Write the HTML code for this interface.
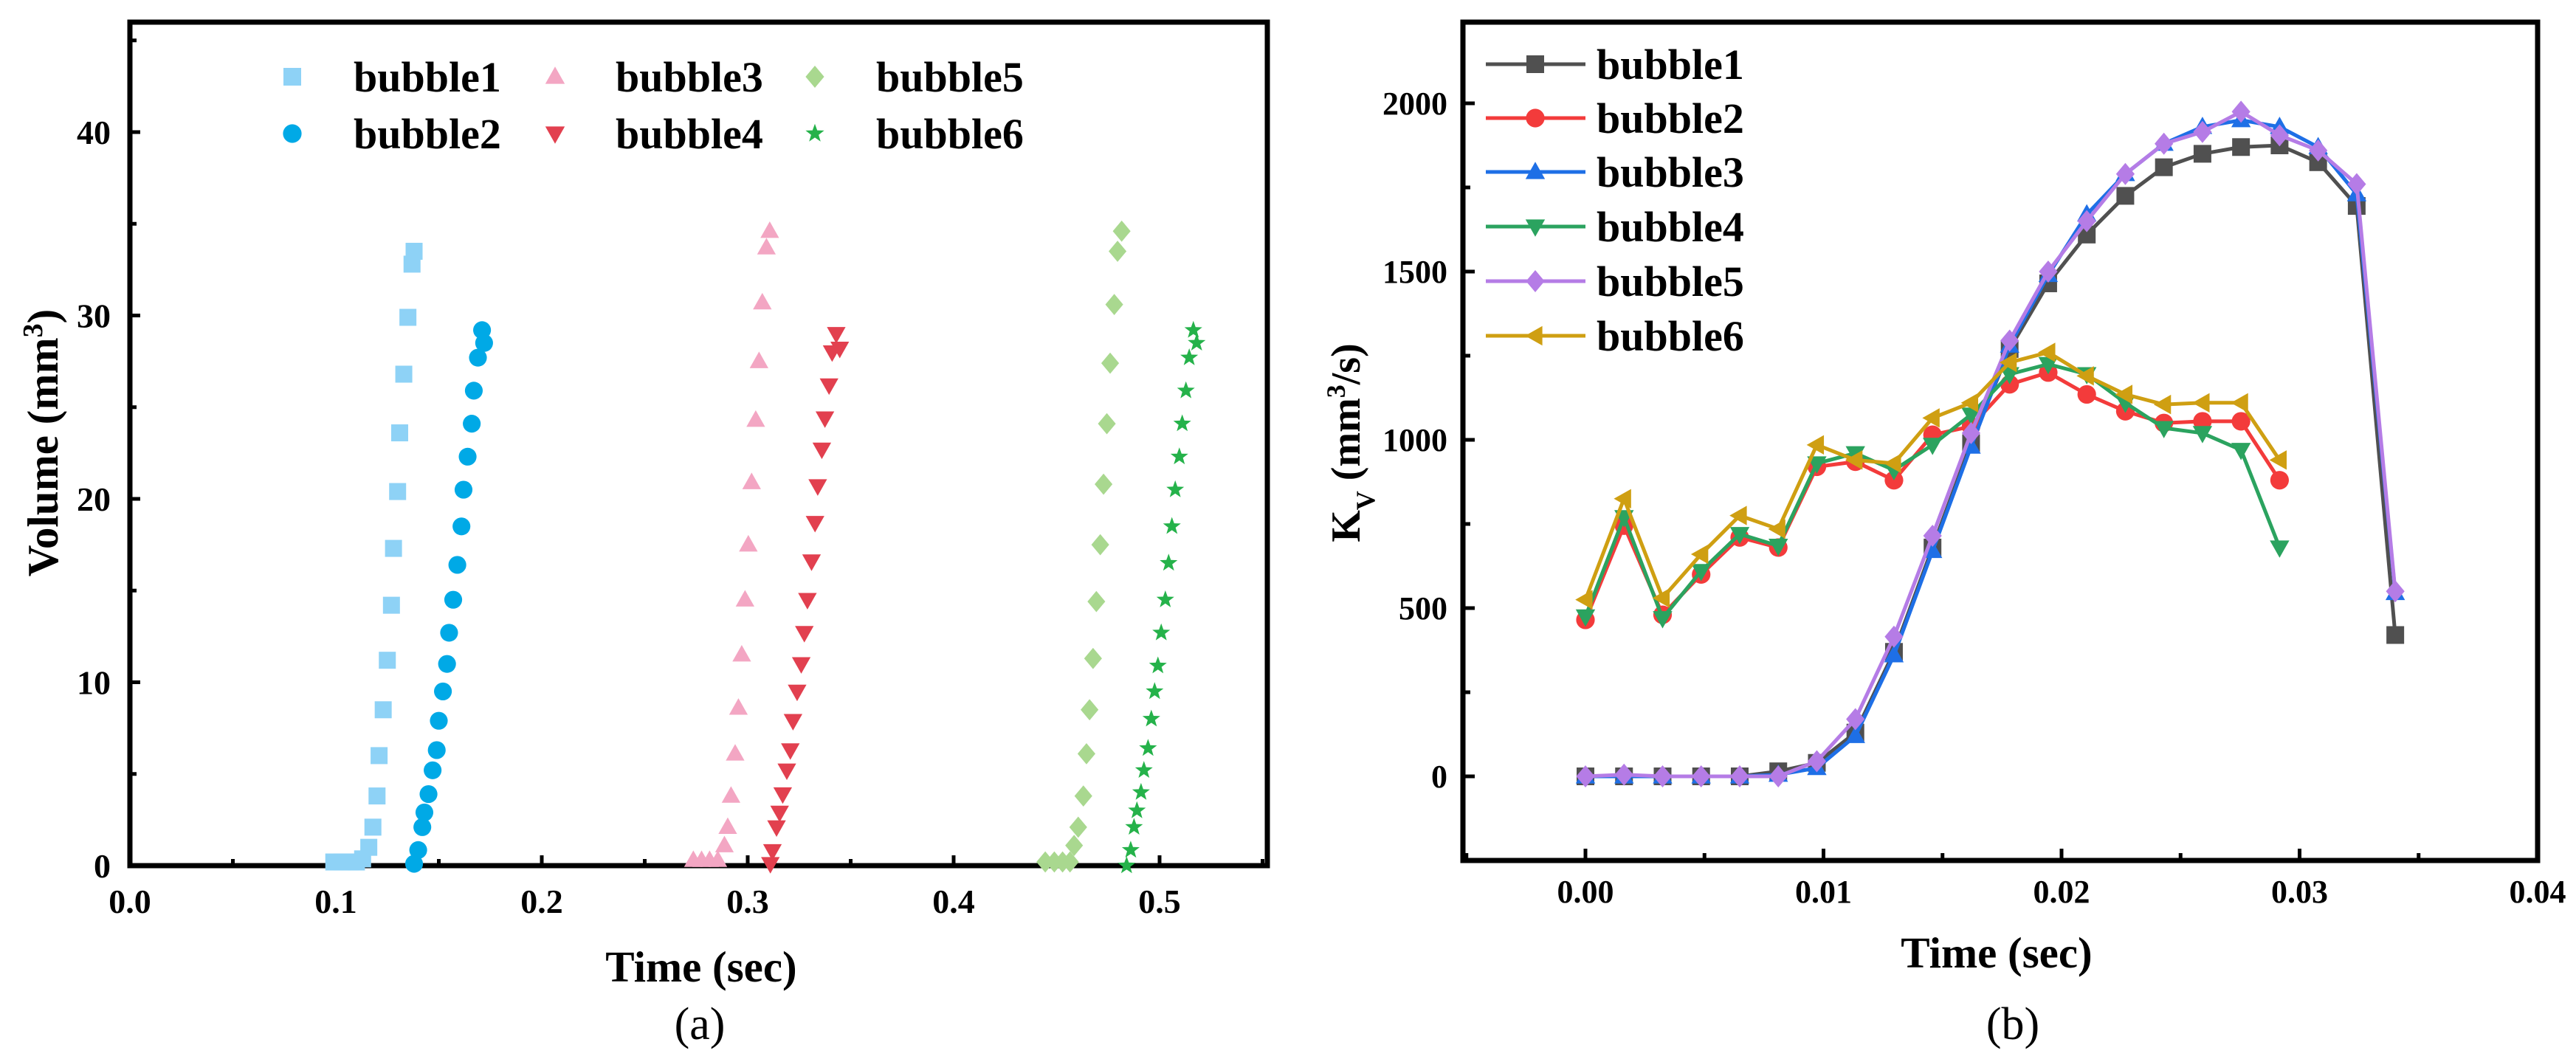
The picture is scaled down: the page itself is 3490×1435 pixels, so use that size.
<!DOCTYPE html>
<html><head><meta charset="utf-8"><style>
html,body{margin:0;padding:0;background:#fff}
svg{display:block;font-family:"Liberation Serif",serif}
</style></head><body>
<svg id="fig" width="3490" height="1435" viewBox="0 0 3490 1435" xmlns="http://www.w3.org/2000/svg">
<g id="pa"></g>
<g id="pb"></g>
</svg>
<script>
// ---------- Panel (a) data ----------
const aNames = ["bubble1","bubble2","bubble3","bubble4","bubble5","bubble6"];
const aT1 = [0.099,0.103,0.107,0.110,0.113,0.116,0.118,0.120,0.121,0.123,0.125,0.127,0.128,0.130,0.131,0.133,0.135,0.137,0.138];
const aV1 = [0.2,0.2,0.2,0.2,0.37,1.0,2.1,3.8,6.0,8.5,11.2,14.2,17.3,20.4,23.6,26.8,29.9,32.8,33.5];
const aT2 = [0.138,0.140,0.142,0.143,0.145,0.147,0.149,0.150,0.152,0.154,0.155,0.157,0.159,0.161,0.162,0.164,0.166,0.167,0.169,0.171,0.172];
const aV2 = [0.1,0.85,2.1,2.9,3.9,5.2,6.3,7.9,9.5,11.0,12.7,14.5,16.4,18.5,20.5,22.3,24.1,25.9,27.7,29.2,28.5];
const aT3 = [0.2736,0.2776,0.2815,0.2855,0.2887,0.2903,0.2919,0.2939,0.2955,0.2971,0.2987,0.3003,0.3019,0.3039,0.3055,0.3071,0.3091,0.3107];
const aV3 = [0.3,0.3,0.3,0.3,1.1,2.1,3.8,6.1,8.6,11.5,14.5,17.5,20.9,24.3,27.5,30.7,33.7,34.6];
const aT4 = [0.311,0.312,0.314,0.3155,0.317,0.319,0.3207,0.322,0.324,0.326,0.3275,0.329,0.331,0.3327,0.334,0.336,0.3375,0.3395,0.341,0.343,0.3447];
const aV4 = [0.1,0.8,2.1,2.9,3.9,5.2,6.3,7.9,9.5,11.0,12.7,14.5,16.6,18.7,20.7,22.7,24.4,26.2,28.0,29.0,28.2];
const aT5 = [0.4445,0.4489,0.4529,0.4565,0.4585,0.4605,0.463,0.4645,0.466,0.4677,0.4693,0.4712,0.4728,0.4744,0.476,0.478,0.4796,0.4816];
const aV5 = [0.2,0.2,0.2,0.2,1.1,2.1,3.8,6.1,8.5,11.3,14.4,17.5,20.8,24.1,27.4,30.6,33.5,34.6];
const aT6 = [0.484,0.486,0.4876,0.489,0.491,0.4924,0.4944,0.496,0.4976,0.4992,0.5008,0.5028,0.5044,0.506,0.5076,0.5096,0.511,0.5128,0.5144,0.5164,0.518];
const aV6 = [0.0,0.85,2.1,3.0,4.0,5.2,6.4,8.0,9.5,10.9,12.7,14.5,16.5,18.5,20.5,22.3,24.1,25.9,27.7,29.2,28.5];
const aXTicks = ["0.0","0.1","0.2","0.3","0.4","0.5"];
const aYTicks = ["0","10","20","30","40"];

// ---------- Panel (b) data ----------
const bNames = ["bubble1","bubble2","bubble3","bubble4","bubble5","bubble6"];
const bStep = 0.00162;
const bK1 = [0,0,0,0,0,15,40,130,370,680,990,1270,1465,1610,1725,1810,1850,1870,1875,1825,1695,420];
const bK2 = [465,745,480,600,710,680,920,935,880,1015,1040,1165,1200,1135,1085,1050,1055,1055,880];
const bK3 = [0,0,0,0,0,5,25,120,360,670,980,1280,1490,1670,1790,1880,1930,1950,1930,1870,1730,545];
const bK4 = [475,770,470,610,720,685,930,960,910,985,1075,1195,1225,1195,1110,1035,1020,970,680];
const bK5 = [0,5,0,0,0,0,45,170,415,715,1020,1295,1500,1650,1790,1880,1915,1975,1905,1860,1760,550];
const bK6 = [525,825,530,660,775,735,985,940,930,1065,1110,1230,1260,1190,1135,1105,1110,1110,940];
const bXTicks = ["0.00","0.01","0.02","0.03","0.04"];
const bYTicks = ["0","500","1000","1500","2000"];

const NS="http://www.w3.org/2000/svg";
function mk(tag, parent, attrs){const e=document.createElementNS(NS,tag);for(const k in attrs)e.setAttribute(k,attrs[k]);parent.appendChild(e);return e;}
function marker(parent, shape, cx, cy, s, color){
  let e;
  const h=s/2;
  if(shape==="square") e=mk("rect",parent,{x:cx-h,y:cy-h,width:s,height:s,fill:color});
  else if(shape==="circle") e=mk("circle",parent,{cx:cx,cy:cy,r:h*1.05,fill:color});
  else if(shape==="up") e=mk("polygon",parent,{points:`${cx},${cy-h*1.15} ${cx+h*1.1},${cy+h*0.8} ${cx-h*1.1},${cy+h*0.8}`,fill:color});
  else if(shape==="down") e=mk("polygon",parent,{points:`${cx},${cy+h*1.15} ${cx+h*1.1},${cy-h*0.8} ${cx-h*1.1},${cy-h*0.8}`,fill:color});
  else if(shape==="diamond") e=mk("polygon",parent,{points:`${cx},${cy-h*1.25} ${cx+h*1.05},${cy} ${cx},${cy+h*1.25} ${cx-h*1.05},${cy}`,fill:color});
  else if(shape==="left") e=mk("polygon",parent,{points:`${cx-h*1.15},${cy} ${cx+h*0.8},${cy-h*1.1} ${cx+h*0.8},${cy+h*1.1}`,fill:color});
  else if(shape==="star"){let p=[];for(let i=0;i<10;i++){const r=i%2?h*0.45:h*1.1;const a=-Math.PI/2+i*Math.PI/5;p.push((cx+r*Math.cos(a)).toFixed(1)+","+(cy+r*Math.sin(a)).toFixed(1));}e=mk("polygon",parent,{points:p.join(" "),fill:color});}
  return e;
}
const shapes=["square","circle","up","down","diamond","star"];

// ---------- Panel (a) ----------
(function(){
  const g=document.getElementById("pa");
  const L=176,R=1717,T=30,B=1173;
  const x=v=>L+v*2790, y=v=>B-v*24.85;
  const cols=["#8ed2f6","#00a9e6","#f3a6c3","#e2404f","#a9d88f","#25b24a"];
  const ts=[aT1,aT2,aT3,aT4,aT5,aT6], vs=[aV1,aV2,aV3,aV4,aV5,aV6];
  const ax=mk("g",g,{});  
  for(let i=0;i<=11;i++){const v=i*0.05;const len=i%2?9:14;const l=mk("line",ax,{x1:x(v),x2:x(v),y1:B,y2:B-len,stroke:"#000","stroke-width":5});}
  for(let i=0;i<=9;i++){const v=i*5;const len=i%2?9:14;const l=mk("line",ax,{x1:L,x2:L+len,y1:y(v),y2:y(v),stroke:"#000","stroke-width":5});}
  aXTicks.forEach((t,i)=>{const e=mk("text",ax,{x:x(i*0.1),y:1237,"text-anchor":"middle","font-size":46,"font-weight":"bold"});e.textContent=t;});
  aYTicks.forEach((t,i)=>{const e=mk("text",ax,{x:150,y:y(i*10)+16,"text-anchor":"end","font-size":46,"font-weight":"bold"});e.textContent=t;});
  const fr=mk("rect",ax,{x:L,y:T,width:R-L,height:B-T,fill:"none",stroke:"#000","stroke-width":7});
  
  const pts=mk("g",g,{});
  ts.forEach((tt,si)=>{const sg=mk("g",pts,{});
    tt.forEach((t,j)=>{const m=marker(sg,shapes[si],x(t),y(vs[si][j]),23,cols[si]);});});
  const lg=mk("g",g,{});  
  const mx=[396,752,1104], tx=[479,834,1187], ry=[104,181];
  aNames.forEach((n,i)=>{const c=Math.floor(i/2), r=i%2;
    const m=marker(lg,shapes[i],mx[c],ry[r],24,cols[i]);
    const e=mk("text",lg,{x:tx[c],y:ry[r]+20,"font-size":58,"font-weight":"bold"});e.textContent=n;});
  const xt=mk("text",g,{x:950,y:1330,"text-anchor":"middle","font-size":59,"font-weight":"bold"});xt.textContent="Time (sec)";
  const yt=mk("text",g,{x:0,y:0,"text-anchor":"middle","font-size":59,"font-weight":"bold",transform:"translate(78,600) rotate(-90)"});
  yt.innerHTML='Volume (mm<tspan baseline-shift="super" font-size="38">3</tspan>)';
  
  const cap=mk("text",g,{x:948,y:1408,"text-anchor":"middle","font-size":62});cap.textContent="(a)";
})();

// ---------- Panel (b) ----------
(function(){
  const g=document.getElementById("pb");
  const L=1982,R=3438,T=30,B=1166;
  const x=v=>2148+v*32250, y=v=>1052-v*0.456;
  const cols=["#505050","#f33b3b","#1e6fe6","#2ba35f","#b57ce6","#cf9f12"];
  const mshapes=["square","circle","up","down","diamond","left"];
  const ks=[bK1,bK2,bK3,bK4,bK5,bK6];
  const ax=mk("g",g,{});  
  for(let i=-1;i<=8;i++){const v=i*0.005;const len=(i%2===0)?16:10;const l=mk("line",ax,{x1:x(v),x2:x(v),y1:B,y2:B-len,stroke:"#000","stroke-width":5});}
  for(let i=-1;i<=8;i++){const v=i*250;if(y(v)<T+5)continue;const len=(i%2===0)?16:10;const l=mk("line",ax,{x1:L,x2:L+len,y1:y(v),y2:y(v),stroke:"#000","stroke-width":5});}
  bXTicks.forEach((t,i)=>{const e=mk("text",ax,{x:x(i*0.01),y:1223,"text-anchor":"middle","font-size":44,"font-weight":"bold"});e.textContent=t;});
  bYTicks.forEach((t,i)=>{const e=mk("text",ax,{x:1961,y:y(i*500)+15,"text-anchor":"end","font-size":44,"font-weight":"bold"});e.textContent=t;});
  const fr=mk("rect",ax,{x:L,y:T,width:R-L,height:B-T,fill:"none",stroke:"#000","stroke-width":7});
  
  const sgAll=mk("g",g,{});
  ks.forEach((arr,si)=>{const sg=mk("g",sgAll,{});
    const d=arr.map((v,j)=>(j?"L":"M")+x(j*bStep).toFixed(1)+","+y(v).toFixed(1)).join(" ");
    const p=mk("path",sg,{d:d,fill:"none",stroke:cols[si],"stroke-width":5});
    arr.forEach((v,j)=>{const m=marker(sg,mshapes[si],x(j*bStep),y(v),24,cols[si]);});});
  const lg=mk("g",g,{});  
  const ry=[87,160,233,307,381,455];
  bNames.forEach((n,i)=>{
    const l=mk("line",lg,{x1:2013,x2:2148,y1:ry[i],y2:ry[i],stroke:cols[i],"stroke-width":5});
    const m=marker(lg,mshapes[i],2080,ry[i],24,cols[i]);
    const e=mk("text",lg,{x:2163,y:ry[i]+20,"font-size":58,"font-weight":"bold"});e.textContent=n;});
  const xt=mk("text",g,{x:2705,y:1311,"text-anchor":"middle","font-size":59,"font-weight":"bold"});xt.textContent="Time (sec)";
  const yt=mk("text",g,{x:0,y:0,"text-anchor":"middle","font-size":56,"font-weight":"bold",transform:"translate(1842,600) rotate(-90)"});
  yt.innerHTML='K<tspan baseline-shift="sub" font-size="36">V</tspan> (mm<tspan baseline-shift="super" font-size="36">3</tspan>/s)';
  
  const cap=mk("text",g,{x:2727,y:1408,"text-anchor":"middle","font-size":62});cap.textContent="(b)";
})();
</script>
</body></html>
